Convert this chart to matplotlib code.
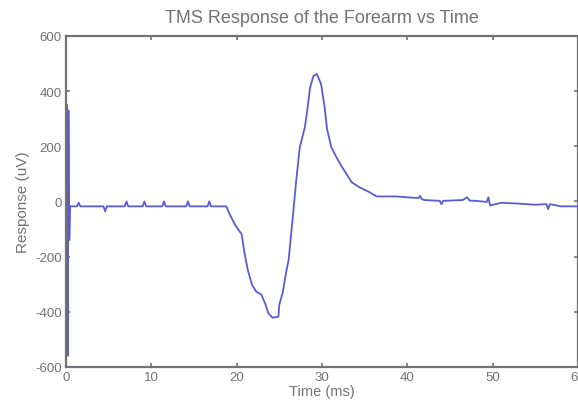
import matplotlib
matplotlib.use('Agg')
import matplotlib.pyplot as plt

plt.rcParams['axes.unicode_minus'] = False

# time (ms) and response (uV)
time_ms = [0.0, 0.05, 0.12, 0.2, 0.3, 0.4, 0.5, 1.3, 1.5, 1.7, 4.4, 4.6, 4.8,
           6.9, 7.1, 7.3, 9.0, 9.2, 9.4, 11.3, 11.5, 11.7, 14.1, 14.3, 14.5,
           16.6, 16.8, 17.0, 18.8, 19.2, 19.8, 20.6, 20.9, 21.3, 21.8, 22.3,
           22.9, 23.4, 23.7, 24.2, 24.9, 25.0, 25.4, 25.8, 26.1, 26.5, 27.0,
           27.4, 28.0, 28.3, 28.6, 29.0, 29.4, 29.9, 30.3, 30.6, 31.1, 31.7,
           32.3, 32.9, 33.5, 34.4, 35.6, 36.4, 38.7, 39.9, 41.3, 41.5, 41.7,
           42.0, 43.8, 44.0, 44.2, 45.0, 46.5, 47.0, 47.3, 48.0, 49.3, 49.5,
           49.7, 51.0, 53.0, 55.0, 56.3, 56.5, 56.7, 58.0, 60.0]
response_uv = [570, -560, 350, -560, 330, -140, -18, -18, -5, -18, -18, -36,
               -18, -18, 0, -18, -18, 0, -18, -18, 0, -18, -18, 0, -18, -18,
               0, -18, -18, -47, -84, -120, -182, -247, -302, -327, -338,
               -375, -404, -422, -418, -375, -331, -258, -211, -84, 80, 196,
               269, 335, 411, 455, 462, 425, 345, 262, 196, 160, 127, 98, 69,
               51, 33, 18, 18, 15, 12, 20, 8, 5, 2, -10, 2, 3, 5, 15, 3, 2,
               -2, 15, -15, -5, -8, -12, -10, -28, -10, -18, -18]

gray = '#727272'
font = 'Liberation Sans'
fig = plt.figure(figsize=(5.78, 4.06), dpi=100)
ax = fig.add_axes([0.114, 0.094, 0.886, 0.815])
ax.plot(time_ms, response_uv, color='#5b5bd8', lw=1.3)

ax.set_xlim(0, 60)
ax.set_ylim(-600, 600)
ax.set_xticks([0, 10, 20, 30, 40, 50, 60])
ax.set_yticks([-600, -400, -200, 0, 200, 400, 600])
ax.tick_params(direction='in', length=3, width=1.2, colors=gray,
               labelsize=9.5, top=True, right=True, pad=3)
for s in ax.spines.values():
    s.set_color(gray)
    s.set_linewidth(1.6)

ax.set_title('TMS Response of the Forearm vs Time', color=gray, fontsize=13,
             family=font, pad=10)
ax.set_xlabel('Time (ms)', color=gray, fontsize=10.5, family=font,
              labelpad=1)
ax.set_ylabel('Response (uV)', color=gray, fontsize=11, family=font,
              labelpad=4)
for lab in ax.get_xticklabels() + ax.get_yticklabels():
    lab.set_family(font)

fig.savefig('out.png', dpi=100)
